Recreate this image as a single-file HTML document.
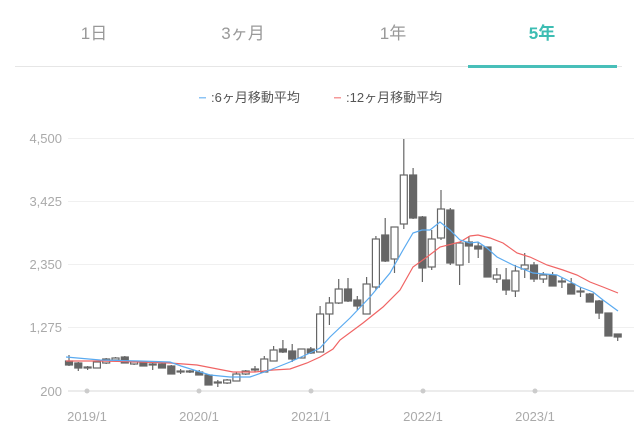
<!DOCTYPE html>
<html><head><meta charset="utf-8"><style>
body{margin:0;background:#fff;width:642px;height:440px;overflow:hidden;font-family:"Liberation Sans","Noto Sans CJK JP",sans-serif}
</style></head><body>
<svg width="642" height="440" viewBox="0 0 642 440" xmlns="http://www.w3.org/2000/svg" font-family="Liberation Sans, Noto Sans CJK JP, sans-serif">
<g font-size="17" fill="#999" text-anchor="middle">
<text x="94" y="39">1日</text><text x="243" y="39">3ヶ月</text><text x="393" y="39">1年</text>
<text x="542" y="39" fill="#3dbdb3" font-weight="bold">5年</text></g>
<rect x="15" y="66" width="607" height="1" fill="#e6e6e6"/>
<rect x="468" y="65" width="149" height="3" fill="#48bfb9"/>
<rect x="199" y="97" width="7" height="1.5" fill="#8cc4f5"/>
<text x="211" y="102" font-size="13" fill="#555">:6ヶ月移動平均</text>
<rect x="334" y="97" width="7" height="1.5" fill="#f59a9a"/>
<text x="346" y="102" font-size="13" fill="#555">:12ヶ月移動平均</text>
<g stroke="#f0f0f0" stroke-width="1">
<line x1="68" y1="138.5" x2="634" y2="138.5"/><line x1="68" y1="201.5" x2="634" y2="201.5"/>
<line x1="68" y1="264.5" x2="634" y2="264.5"/><line x1="68" y1="327.5" x2="634" y2="327.5"/></g>
<line x1="68" y1="391" x2="634" y2="391" stroke="#e6e6e6" stroke-width="1.5"/>
<g font-size="13" fill="#aaa" text-anchor="end">
<text x="62" y="143">4,500</text><text x="62" y="206">3,425</text><text x="62" y="269">2,350</text><text x="62" y="332">1,275</text><text x="62" y="396">200</text></g>
<g fill="#ccc"><circle cx="87" cy="391" r="2.5"/><circle cx="199" cy="391" r="2.5"/><circle cx="311" cy="391" r="2.5"/><circle cx="423" cy="391" r="2.5"/><circle cx="535" cy="391" r="2.5"/></g>
<g font-size="13" fill="#aaa" text-anchor="middle">
<text x="87" y="421">2019/1</text><text x="199" y="421">2020/1</text><text x="311" y="421">2021/1</text><text x="423" y="421">2022/1</text><text x="535" y="421">2023/1</text></g>
<g id="c" stroke="#666" stroke-width="1.2"></g>
<polyline fill="none" stroke="#f06464" stroke-width="1.2" points="66,361 100,361 140,362 170,363 197,365 233,372 255,372 273,370 290,369 307,363 320,357 333,349 340,340 363,323 383,307 400,290 413,267 427,257 440,247 460,242 470,236 478,235 490,238 503,243 517,253 530,257 547,265 563,270 577,275 590,282 603,287 618,293"/>
<polyline fill="none" stroke="#5aaaf0" stroke-width="1.2" points="66,357 100,360 140,361 170,362 181,366 210,375 230,377 250,377 270,370 290,362 310,353 320,348 330,337 350,318 370,297 390,273 403,250 413,233 422,230 430,230 440,222 450,230 460,240 470,243 478,242 487,248 497,257 513,265 533,273 557,275 567,280 580,287 593,292 603,300 618,311"/>
</svg>
<script>
var d=[[361,365,355,366,1],[363,368,362,371,1],[367,368,366,370,0],[362,368,362,368,0],[359,363,358,364,0],[358,360,357,361,0],[357,363,356,363,1],[362,364,361,365,0],[362,366,361,366,1],[364,365,362,370,0],[364,368,363,368,1],[366,374,365,374,1],[371,372,369,374,0],[371,372,370,373,0],[372,375,370,375,1],[375,385,374,385,1],[382,383,380,387,0],[380,383,379,384,0],[374,381,372,381,0],[371,374,370,375,0],[369,370,366,372,0],[359,372,356,372,0],[350,361,346,361,0],[349,352,340,353,1],[351,359,344,362,1],[349,358,349,358,0],[349,353,347,354,1],[314,352,306,352,0],[303,314,297,325,0],[289,303,279,304,0],[289,301,278,302,1],[300,306,296,310,1],[284,314,277,314,0],[239,287,236,290,0],[235,261,218,262,1],[227,259,227,273,0],[175,224,139,229,0],[175,218,168,219,1],[217,268,216,282,1],[239,267,230,270,0],[209,238,190,240,0],[210,263,208,265,1],[243,265,242,285,0],[242,246,236,263,1],[246,249,242,258,1],[247,277,247,277,1],[275,279,268,283,0],[280,290,268,295,1],[271,291,265,297,0],[265,269,253,278,0],[265,279,262,282,1],[275,279,272,283,0],[275,286,272,286,1],[281,282,278,288,0],[284,294,278,294,1],[291,292,287,297,0],[294,302,293,302,1],[301,313,300,319,1],[313,336,313,336,1],[334,337,334,341,1]];
var g=document.getElementById('c'),s='';
d.forEach(function(c,i){var x=69+i*9.3;
s+='<line x1="'+x+'" y1="'+c[2]+'" x2="'+x+'" y2="'+c[3]+'"/>';
s+='<rect x="'+(x-3.5)+'" y="'+c[0]+'" width="7" height="'+Math.max(1,c[1]-c[0])+'" fill="'+(c[4]?'#666':'#fff')+'"/>';});
g.innerHTML=s;
</script>
</body></html>
